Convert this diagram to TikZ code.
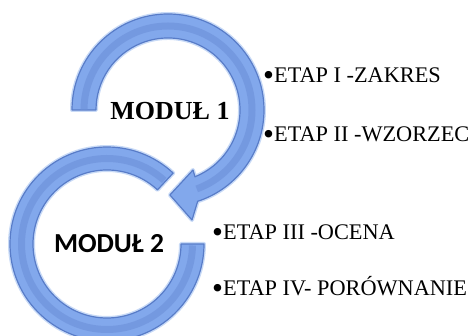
\documentclass[tikz,border=0pt]{standalone}
\usepackage{fontspec}
\setmainfont{Liberation Serif}
\newfontfamily\carlito{Carlito}
\usetikzlibrary{calc}
\definecolor{bandfill}{RGB}{130,168,236}
\definecolor{bandmid}{RGB}{108,144,216}
\definecolor{bandedge}{RGB}{88,124,200}
\definecolor{bandglow}{RGB}{200,218,246}
\newcommand{\bul}{\raisebox{-2.6pt}{\scalebox{1.4}{•}}}
\tikzset{
  band/.style={fill=bandfill,draw=bandedge,line width=1.2pt,line join=round},
  glow/.style={draw=bandglow,line width=4pt,line join=round},
  stripe/.style={draw=bandmid,line width=7pt,opacity=0.6},
  modtxt/.style={inner sep=0pt,anchor=base},
  etap/.style={inner sep=0pt,anchor=base west,font=\fontsize{22.3}{25}\selectfont}
}
\begin{document}
\begin{tikzpicture}[x=1pt,y=1pt]
\useasboundingbox (0,0) rectangle (473,336);
\clip (0,0) rectangle (473,336);
% upper circular arrow
\begin{scope}[shift={(168,226)}]
  \path[glow] (180:96) arc[start angle=180,end angle=-72,radius=96] -- (-77.7:112.6) -- (-88.7:85) -- (-67.4:65) -- (-68:72) arc[start angle=-68,end angle=180,radius=72] -- cycle;
  \path[band] (180:96) arc[start angle=180,end angle=-72,radius=96] -- (-77.7:112.6) -- (-88.7:85) -- (-67.4:65) -- (-68:72) arc[start angle=-68,end angle=180,radius=72] -- cycle;
  \draw[stripe] (180:84) arc[start angle=180,end angle=-70,radius=84];
\end{scope}
% lower circular arrow
\begin{scope}[shift={(107,92)}]
  \path[glow] (47:97) arc[start angle=47,end angle=360,radius=97] -- (0:74) arc[start angle=360,end angle=47,radius=74] -- cycle;
  \path[band] (47:97) arc[start angle=47,end angle=360,radius=97] -- (0:74) arc[start angle=360,end angle=47,radius=74] -- cycle;
  \draw[stripe] (48:85.5) arc[start angle=48,end angle=359,radius=85.5];
\end{scope}
\node[modtxt,font=\fontsize{26}{28}\selectfont\bfseries] (m1) at (170,216) {MODUŁ 1};
\node[modtxt,font=\carlito\fontsize{27.5}{30}\selectfont\bfseries] (m2) at (109,83) {MODUŁ 2};
\node[etap] (e1) at (263,253) {\bul ETAP I -ZAKRES};
\node[etap] (e2) at (263,194) {\bul ETAP II -WZORZEC};
\node[etap] (e3) at (212,96) {\bul ETAP III -OCENA};
\node[etap] (e4) at (212,40) {\bul ETAP IV- PORÓWNANIE};
\end{tikzpicture}
\end{document}
